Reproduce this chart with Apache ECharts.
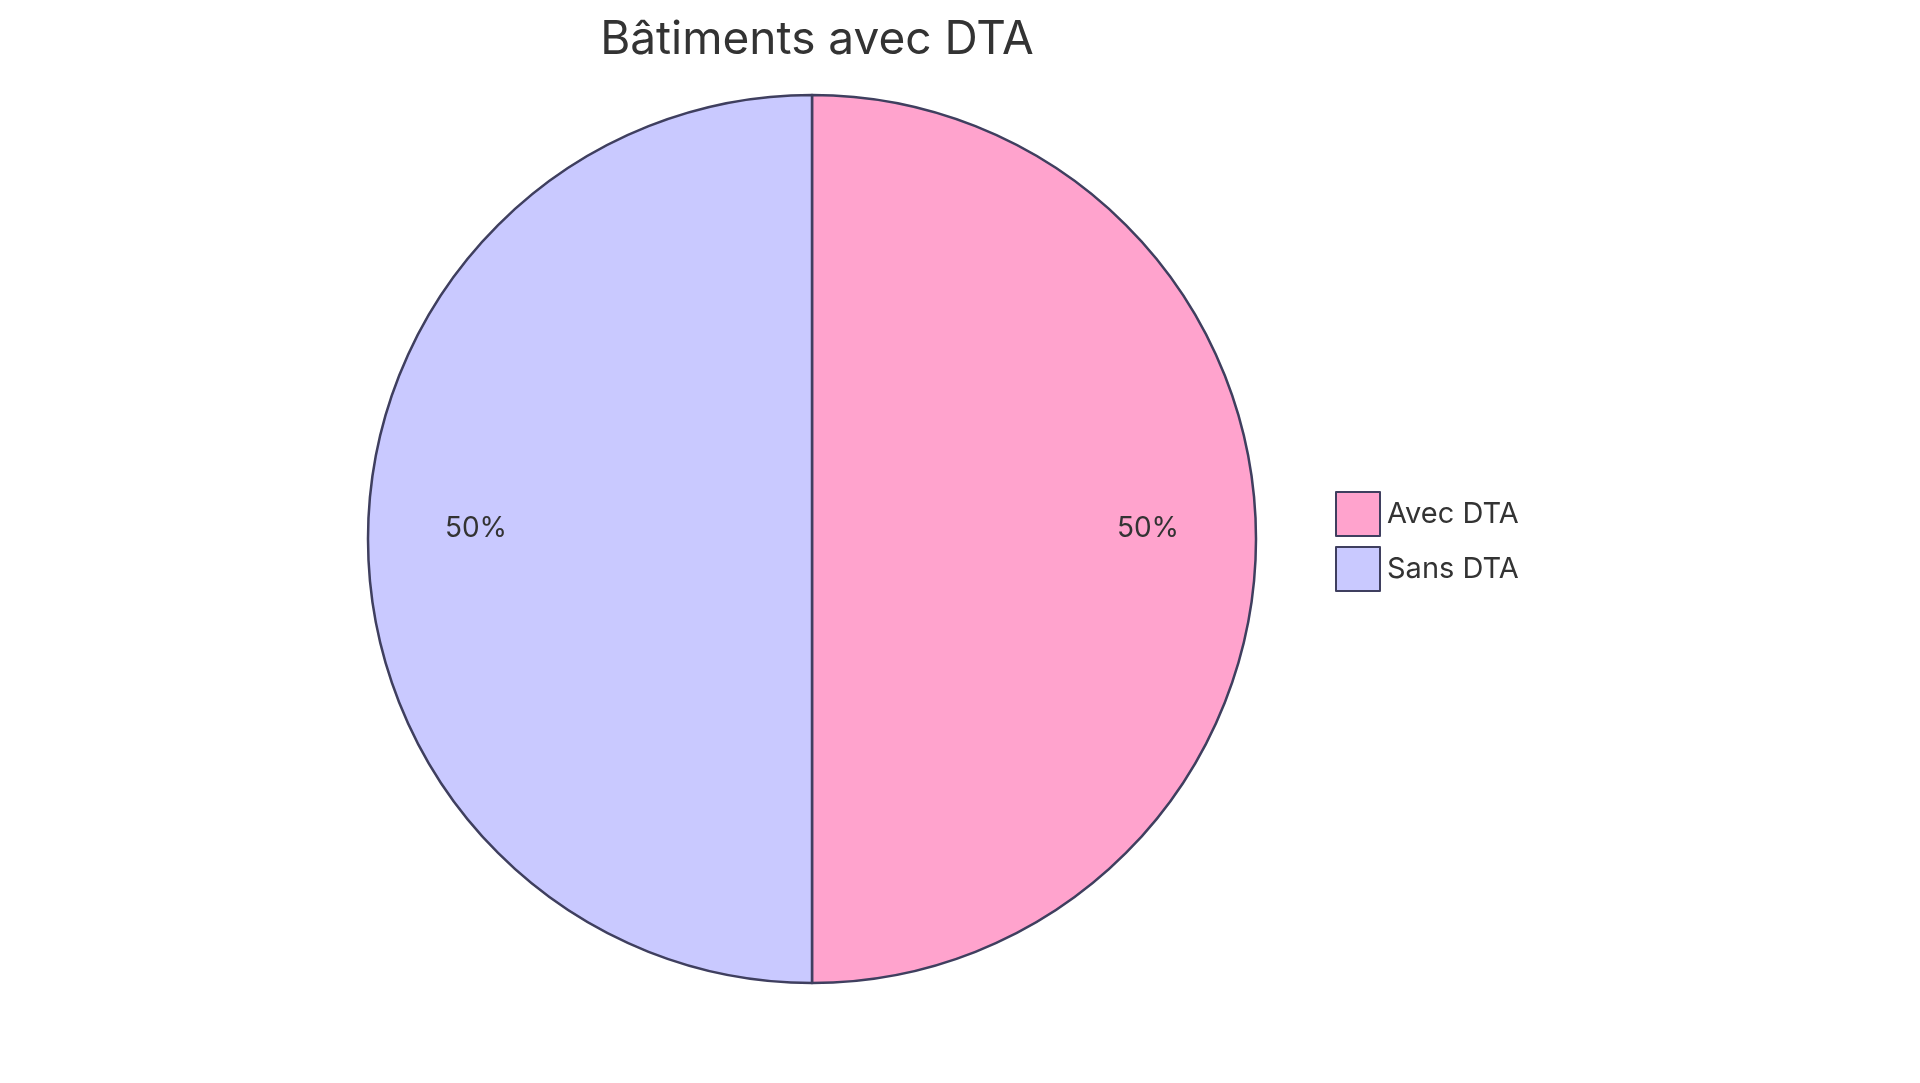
<!DOCTYPE html>
<html><head><meta charset="utf-8">
<script src="https://cdn.jsdelivr.net/npm/echarts@6/dist/echarts.min.js"></script>
<style>html,body{margin:0;padding:0;background:#fff}#c{width:1920px;height:1083px}</style>
</head><body><div id="c"></div>
<script>
const categories = ['Avec DTA', 'Sans DTA'];
const values = [50, 50];
const colors = ['#FFA3CD', '#C9C9FF'];
const data = categories.map((n, i) => ({name: n, value: values[i], itemStyle: {color: colors[i]}}));
const chart = echarts.init(document.getElementById('c'));
chart.setOption({
  animation: false,
  title: {text: 'Bâtiments avec DTA', left: 812, top: 12, textAlign: 'center',
    textStyle: {fontFamily: 'Inter', fontWeight: 'normal', fontSize: 46, color: '#333'}},
  legend: {orient: 'vertical', left: 1330, top: 486, itemWidth: 44, itemHeight: 44, itemGap: 9,
    icon: 'rect', textStyle: {fontFamily: 'Inter', fontSize: 29, color: '#333', padding: [0,0,0,2]},
    data: categories},
  series: [
    {type: 'pie', center: [812, 539], radius: [0, 444], startAngle: 90, clockwise: true,
     data: data, label: {show: false}, labelLine: {show: false},
     itemStyle: {borderColor: '#3F3F5F', borderWidth: 2.5}},
    {type: 'pie', center: [812, 539], radius: [222, 444], startAngle: 90, silent: true,
     legendHoverLink: false, data: data.map(d => ({name: d.name, value: d.value, itemStyle: {color: 'transparent'}})),
     label: {show: true, position: 'inside', formatter: '{d}%', fontFamily: 'Inter', fontSize: 28, color: '#333', offset: [0, -10]},
     labelLine: {show: false}, itemStyle: {borderWidth: 0}}
  ]
});
</script></body></html>
